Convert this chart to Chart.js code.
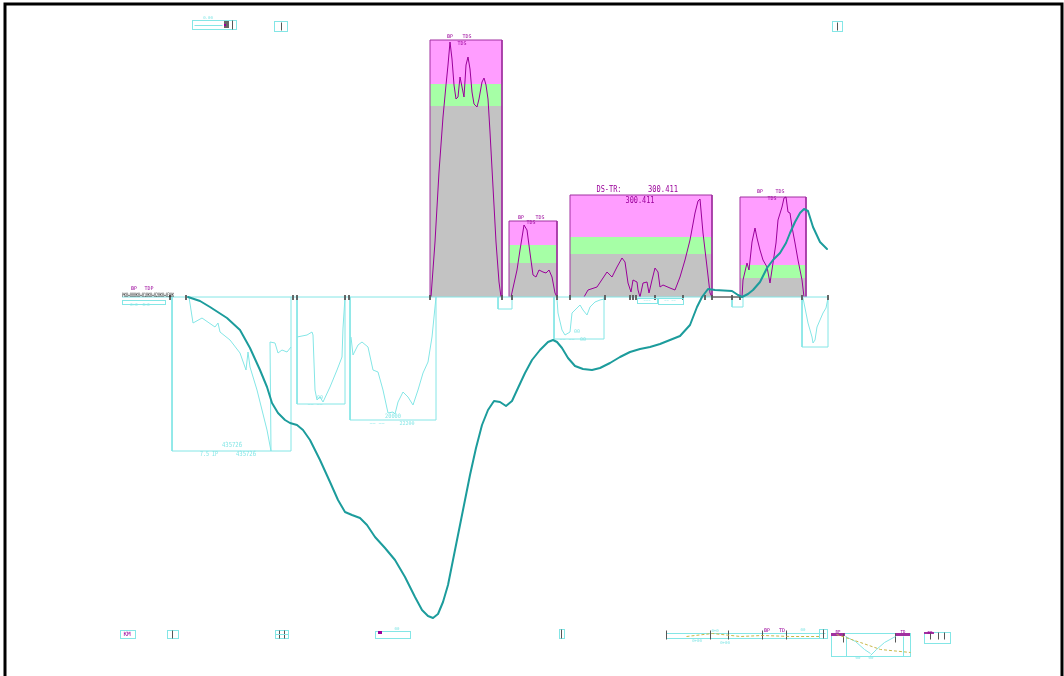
<!DOCTYPE html>
<html>
<head>
<meta charset="utf-8">
<script src="https://cdn.jsdelivr.net/npm/chart.js@4"></script>
<style>
  html, body { margin: 0; padding: 0; background: #ffffff; }
  #wrap { width: 1064px; height: 676px; }
</style>
</head>
<body>
<div id="wrap"><canvas id="c" width="1064" height="676"></canvas></div>
<script>
// x = chainage, y = level relative to the datum line (0)

// ground line (teal)
const groundLine = [
  [188,0],[200,-4],[210,-10],[227,-21],[240,-33],[250,-51],[260,-73],[267,-90],[272,-106],
  [278,-116],[285,-123],[290,-126],[297,-128],[303,-133],[310,-143],[320,-163],[330,-185],
  [338,-203],[345,-215],[352,-218],[360,-221],[367,-228],[375,-240],[385,-251],[395,-263],
  [405,-280],[415,-300],[422,-313],[428,-319],[433,-321],[438,-317],[443,-305],[448,-288],
  [452,-268],[458,-238],[464,-208],[470,-178],[476,-151],[482,-128],[488,-113],[494,-104],
  [500,-105],[506,-109],[512,-104],[518,-91],[525,-76],[532,-63],[540,-53],[548,-45],
  [553,-43],[557,-45],[562,-51],[568,-61],[575,-69],[583,-72],[592,-73],[600,-71],[610,-66],
  [620,-60],[630,-55],[640,-52],[650,-50],[660,-47],[670,-43],[680,-39],[690,-28],[697,-10],
  [702,0],[708,8],[715,7],[732,6],[738,2],[742,0],[748,3],[753,7],[760,15],[767,29],[773,37],
  [780,44],[786,54],[790,64],[795,75],[800,84],[804,88],[808,86],[813,70],[820,55],[827,48]
];

// fill zones above the datum
const zoneStart = [430, 509, 570, 740];
const zoneEnd   = [502, 557, 712, 806];
const zoneTop   = [257, 76, 102, 100];
const zoneGreen = [213, 52, 60, 32];
const zoneGray  = [191, 34, 43, 19];

// fill heights inside each zone (magenta)
const fillA = [[431,0],[435,55],[439,125],[443,180],[446,212],[448,232],[450,255],[452,238],[454,212],
  [456,198],[458,200],[460,220],[462,210],[464,200],[466,232],[468,240],[470,228],[472,205],[474,193],
  [477,190],[479,198],[482,215],[484,219],[486,212],[488,198],[490,165],[493,110],[496,55],[499,15],[501,0]];
const fillB = [[511,0],[517,27],[520,47],[524,72],[527,67],[530,44],[533,22],[536,20],[539,27],[543,25],
  [546,24],[549,27],[552,20],[555,4],[557,0]];
const fillC = [[584,0],[588,7],[597,10],[607,25],[612,20],[617,30],[622,39],[625,35],[628,14],[631,5],
  [633,17],[637,15],[638,7],[640,0],[643,14],[647,15],[649,4],[652,17],[655,29],[658,25],[660,10],
  [663,12],[670,9],[675,7],[680,20],[685,37],[690,57],[695,84],[698,96],[700,98],[703,64],[707,30],
  [710,4],[712,0]];
const fillD = [[742,0],[743,17],[747,34],[749,27],[752,55],[755,69],[757,59],[760,47],[763,37],[767,30],
  [770,14],[773,34],[776,54],[778,77],[782,90],[784,99],[786,100],[788,85],[790,84],[792,70],[795,54],
  [798,37],[802,17],[804,0]];

// cut sections below the datum
const cutStart = [172, 297, 350, 554, 802, 498, 732];
const cutEnd   = [291, 345, 436, 604, 828, 512, 743];
const cutDepth = [-154, -107, -123, -42, -50, -12, -10];

const cut1 = [[189,0],[193,-26],[202,-21],[215,-30],[218,-26],[220,-35],[230,-43],[240,-56],[246,-73],
  [248,-55],[250,-70],[257,-93],[262,-113],[267,-133],[271,-154],[270,-45],[275,-46],[278,-56],
  [282,-53],[287,-55],[291,-50]];
const cut2 = [[297,-40],[307,-38],[312,-35],[313,-38],[315,-93],[317,-103],[320,-100],[323,-105],
  [330,-90],[337,-73],[342,-60],[343,-31],[345,0]];
const cut3 = [[351,-40],[353,-58],[358,-48],[362,-45],[368,-50],[373,-73],[378,-75],[383,-93],[388,-116],
  [393,-115],[395,-117],[398,-105],[403,-95],[408,-100],[413,-108],[418,-93],[423,-76],[428,-65],
  [432,-40],[436,0]];
const cut5 = [[557,-2],[558,-16],[562,-33],[565,-38],[570,-35],[572,-16],[575,-13],[580,-8],[583,-13],
  [587,-18],[590,-10],[595,-5],[600,-3],[604,-2]];
const cut6 = [[803,-1],[806,-16],[808,-26],[812,-40],[813,-46],[815,-43],[817,-30],[820,-23],[823,-16],
  [826,-11],[828,-1]];

// station ticks on the datum
const stationTicks = [170, 186, 293, 297, 345, 349, 430, 502, 512, 557, 570, 605, 630, 633, 636, 655,
  683, 705, 712, 732, 740, 802, 828];

const TEAL = '#1c9c9c', CYAN = '#84e6e6', PINK = '#ff9dff', GREEN = '#a6ffa6', GRAY = '#c3c3c3',
      PURPLE = '#a030a0', MAG = '#9a009a', DARK = '#555555';

// text labels: [text, x, y, colour, size, maxWidth]
const labels = [
  ['DS-TR:', 609, 107, MAG, 9, 25], ['300.411', 663, 107, MAG, 9, 30], ['300.411', 640, 96, MAG, 9, 29],
  ['BP', 450, 260, MAG, 5, 8], ['TDS', 467, 260, MAG, 5, 9], ['TDS', 462, 253, MAG, 5, 9],
  ['BP', 521, 79, MAG, 5, 8], ['TDS', 540, 79, MAG, 5, 9], ['TDS', 531, 74, MAG, 5, 9],
  ['BP', 760, 105, MAG, 5, 8], ['TDS', 780, 105, MAG, 5, 9], ['TDS', 772, 98, MAG, 5, 9],
  ['BP', 134, 8, MAG, 5, 8], ['TDP', 149, 8, MAG, 5, 9],
  ['PK0+000K0+010K0+020K0+030K', 148, 2, '#111', 6, 52],
  ['0+0  0+0', 140, -8, CYAN, 4, 24],
  ['435726', 232, -148, CYAN, 7, 20], ['7.5 IP', 209, -157, CYAN, 7, 18], ['435726', 246, -157, CYAN, 7, 20],
  ['00', 320, -101, CYAN, 5, 8], ['~~ ~~', 315, -108, CYAN, 5, 16],
  ['20000', 393, -119, CYAN, 6, 16], ['~~ ~~', 377, -127, CYAN, 5, 16], ['22200', 407, -127, CYAN, 5, 16],
  ['00', 577, -35, CYAN, 5, 8], ['~~ ~~', 567, -43, CYAN, 5, 16], ['00', 583, -43, CYAN, 5, 8],
  ['~~~', 647, -4, CYAN, 4, 16], ['~~ ~~', 670, -4, CYAN, 4, 20],
  ['0.00', 208, 279, CYAN, 4, 10],
  ['KM', 127, -337, MAG, 6, 12], ['00', 397, -332, CYAN, 4, 10],
  ['0+0', 715, -334, CYAN, 4, 12], ['BP', 767, -334, MAG, 5, 8], ['TD', 782, -334, MAG, 5, 8],
  ['00', 803, -333, CYAN, 4, 8], ['0+00', 697, -344, CYAN, 4, 12], ['0+00', 725, -346, CYAN, 4, 12],
  ['00', 858, -361, CYAN, 4, 8], ['00', 871, -361, CYAN, 4, 8],
  ['BP', 838, -335, MAG, 4, 8], ['TD', 903, -335, MAG, 4, 8], ['BP', 930, -336, MAG, 4, 8]
];

// title-block / legend strips: [kind, colour, ...coords]
const strips = [
  ['rect', CYAN, 192, 277, 236, 268], ['line', CYAN, 194, 272, 222, 272], ['fill', '#666', 224, 276, 229, 269],
  ['line', DARK, 232, 277, 232, 268], ['fill', MAG, 224, 273, 226, 271],
  ['rect', CYAN, 274, 276, 287, 266], ['line', DARK, 281, 275, 281, 267],
  ['rect', CYAN, 832, 276, 842, 266], ['line', DARK, 837, 275, 837, 267],
  ['rect', CYAN, 122, -3, 165, -7],
  ['rect', CYAN, 637, -1, 657, -6], ['rect', CYAN, 658, -1, 683, -7],
  ['rect', CYAN, 120, -333, 135, -341],
  ['rect', CYAN, 167, -333, 178, -341], ['line', DARK, 172, -333, 172, -341],
  ['rect', CYAN, 275, -333, 288, -341], ['line', DARK, 279, -333, 279, -341], ['line', DARK, 284, -333, 284, -341],
  ['line', CYAN, 275, -337, 288, -337],
  ['rect', CYAN, 375, -334, 410, -341], ['fill', MAG, 378, -334, 382, -337],
  ['rect', CYAN, 559, -332, 564, -341], ['line', DARK, 561, -332, 561, -341],
  ['line', CYAN, 666, -336, 825, -336], ['line', CYAN, 666, -341, 825, -341], ['line', DARK, 666, -333, 666, -342],
  ['line', DARK, 710, -333, 710, -342], ['line', DARK, 728, -333, 728, -342], ['line', DARK, 762, -333, 762, -342],
  ['line', DARK, 786, -333, 786, -342],
  ['dash', '#c8b84a', 686, -339, 712, -336, 740, -339, 762, -338, 790, -339, 820, -339],
  ['rect', CYAN, 819, -332, 827, -341], ['line', DARK, 823, -332, 823, -341],
  ['rect', CYAN, 831, -336, 910, -359], ['fill', PURPLE, 831, -336, 845, -339], ['fill', PURPLE, 895, -336, 910, -339],
  ['line', DARK, 843, -336, 843, -345], ['line', DARK, 895, -336, 895, -345],
  ['path', CYAN, 845, -339, 855, -344, 864, -352, 870, -356], ['path', CYAN, 895, -339, 884, -345, 876, -352, 870, -358],
  ['line', CYAN, 846, -339, 846, -359], ['line', CYAN, 903, -339, 903, -359],
  ['dash', '#c8b84a', 836, -337, 860, -345, 880, -352, 910, -355],
  ['rect', CYAN, 924, -335, 950, -346], ['fill', PURPLE, 924, -335, 934, -337],
  ['line', DARK, 930, -335, 930, -342], ['line', DARK, 938, -335, 938, -342], ['line', DARK, 944, -335, 944, -342]
];

const pts = a => a.map(([x, y]) => ({ x, y }));
const lineSet = (data, color, width, order, extra) => Object.assign({
  data: pts(data), borderColor: color, borderWidth: width, pointRadius: 0, fill: false,
  tension: 0, order, spanGaps: false
}, extra || {});

const datasets = [];

// main ground line on top
datasets.push(lineSet(groundLine, TEAL, 2, 10, { borderJoinStyle: 'round', borderCapStyle: 'round' }));

// datum line and ticks
datasets.push(lineSet([[122, 0], [828, 0]], CYAN, 1, 26));
datasets.push(lineSet([[712, 0], [740, 0]], '#8a8a8a', 2, 25));
const tickData = [];
stationTicks.forEach(t => { tickData.push([t, 2], [t, -3], [t, null]); });
datasets.push(lineSet(tickData, DARK, 1, 20));

// zones
zoneStart.forEach((x0, i) => {
  const x1 = zoneEnd[i];
  datasets.push(lineSet([[x0, zoneGray[i]], [x1, zoneGray[i]]], 'rgba(0,0,0,0)', 0, 70,
    { fill: { value: 0 }, backgroundColor: GRAY }));
  datasets.push(lineSet([[x0, zoneGreen[i]], [x1, zoneGreen[i]]], 'rgba(0,0,0,0)', 0, 70,
    { fill: { value: zoneGray[i] }, backgroundColor: GREEN }));
  datasets.push(lineSet([[x0, zoneTop[i]], [x1, zoneTop[i]]], 'rgba(0,0,0,0)', 0, 70,
    { fill: { value: zoneGreen[i] }, backgroundColor: PINK }));
  datasets.push(lineSet([[x0, 0], [x0, zoneTop[i]], [x1, zoneTop[i]], [x1, 0]], PURPLE, 1, 40));
});
[fillA, fillB, fillC, fillD].forEach(f => datasets.push(lineSet(f, MAG, 1, 30)));

// cut sections
cutStart.forEach((x0, i) => {
  const x1 = cutEnd[i], d = cutDepth[i];
  datasets.push(lineSet([[x0, 0], [x0, d], [x1, d], [x1, 0]], CYAN, 1, 45));
});
[cut1, cut2, cut3, cut5, cut6].forEach(c => datasets.push(lineSet(c, CYAN, 1, 44)));

const decorations = {
  id: 'decorations',
  afterDatasetsDraw(chart) {
    const { ctx } = chart;
    const sx = chart.scales.x, sy = chart.scales.y;
    const X = v => sx.getPixelForValue(v), Y = v => sy.getPixelForValue(v);
    ctx.save();
    strips.forEach(s => {
      const [kind, color, ...c] = s;
      ctx.lineWidth = 1;
      ctx.strokeStyle = color; ctx.fillStyle = color;
      ctx.setLineDash([]);
      if (kind === 'rect') {
        ctx.strokeRect(Math.round(X(c[0])) + 0.5, Math.round(Y(c[1])) + 0.5, X(c[2]) - X(c[0]), Y(c[3]) - Y(c[1]));
      } else if (kind === 'fill') {
        ctx.fillRect(X(c[0]), Y(c[1]), X(c[2]) - X(c[0]), Y(c[3]) - Y(c[1]));
      } else {
        if (kind === 'dash') ctx.setLineDash([3, 2]);
        ctx.beginPath();
        for (let k = 0; k < c.length; k += 2) {
          const px = Math.round(X(c[k])) + 0.5, py = Math.round(Y(c[k + 1])) + 0.5;
          k === 0 ? ctx.moveTo(px, py) : ctx.lineTo(px, py);
        }
        ctx.stroke();
      }
    });
    ctx.setLineDash([]);
    ctx.textAlign = 'center';
    ctx.textBaseline = 'middle';
    labels.forEach(([t, x, y, color, size, w]) => {
      ctx.fillStyle = color;
      ctx.font = size + 'px "DejaVu Sans Mono", "Liberation Mono", monospace';
      ctx.fillText(t, X(x), Y(y), w);
    });
    // drawing frame
    ctx.strokeStyle = '#000';
    ctx.lineWidth = 3;
    ctx.beginPath();
    ctx.moveTo(5, 676); ctx.lineTo(5, 4); ctx.lineTo(1062, 4); ctx.lineTo(1062, 676);
    ctx.stroke();
    ctx.restore();
  }
};

new Chart(document.getElementById('c'), {
  type: 'line',
  data: { datasets },
  options: {
    responsive: false,
    animation: false,
    devicePixelRatio: 1,
    layout: { padding: 0 },
    parsing: true,
    scales: {
      x: { type: 'linear', display: false, min: 0, max: 1064 },
      y: { type: 'linear', display: false, min: -379, max: 297 }
    },
    plugins: { legend: { display: false }, tooltip: { enabled: false } },
    elements: { point: { radius: 0 } }
  },
  plugins: [decorations]
});
</script>
</body>
</html>
